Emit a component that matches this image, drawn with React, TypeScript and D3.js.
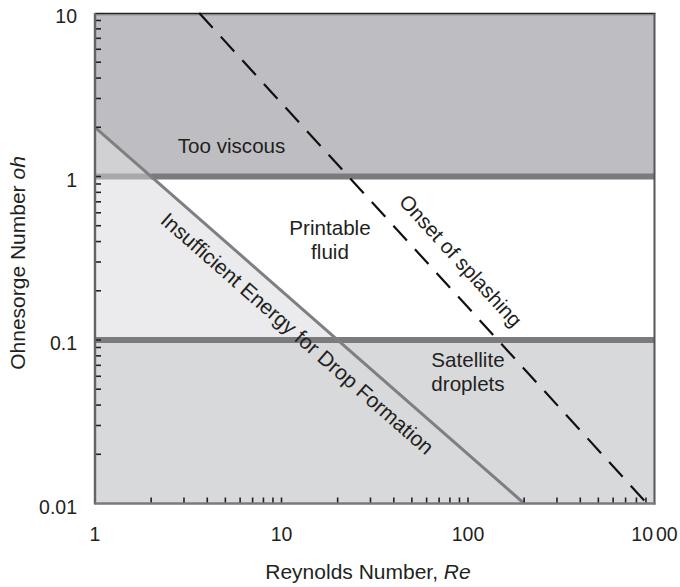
import * as d3 from 'd3';

// axis domains and tick labels
const reDomain = [1, 1000];
const ohDomain = [0.01, 10];
const reTicks = [1, 10, 100, 1000];
const ohTicks = [0.01, 0.1, 1, 10];

// regime boundaries (Ohnesorge number)
const bandLevels = [1, 0.1];

// boundary lines, as end points in (Re, Oh)
const energyLine = [{ re: 1, oh: 2 }, { re: 200, oh: 0.01 }];
const splashLine = [{ re: 3.62, oh: 10 }, { re: 912, oh: 0.01 }];

// region labels, anchored in data units
const regionLabels = [
  { lines: ['Too viscous'], re: 5.4, oh: 1.4 },
  { lines: ['Printable', 'fluid'], re: 18.2, oh: 0.438 },
  { lines: ['Satellite', 'droplets'], re: 100, oh: 0.0684 },
];

const FONT = "'Liberation Sans', Arial, Helvetica, sans-serif";
const INK = '#231f20';

const W = 680;
const H = 587;
const margin = { top: 13, right: 25.5, bottom: 83.5, left: 95 };

// Re where a line (straight in log-log) crosses a given Oh
function reAtOh(line, oh) {
  const [a, b] = line;
  const t = (Math.log10(oh) - Math.log10(a.oh)) / (Math.log10(b.oh) - Math.log10(a.oh));
  return 10 ** (Math.log10(a.re) + t * (Math.log10(b.re) - Math.log10(a.re)));
}

export default function App() {
  const x = d3.scaleLog().domain(reDomain).range([margin.left, W - margin.right]);
  const y = d3.scaleLog().domain(ohDomain).range([H - margin.bottom, margin.top]);

  const [x0, x1] = x.range();
  const [yb, yt] = y.range();

  const line = d3.line().x(d => x(d.re)).y(d => y(d.oh));
  const poly = pts => line(pts) + 'Z';

  const hi = bandLevels[0];
  const lo = bandLevels[1];
  const reHi = reAtOh(energyLine, hi);
  const reLo = reAtOh(energyLine, lo);

  const angleOf = ln =>
    (Math.atan2(y(ln[1].oh) - y(ln[0].oh), x(ln[1].re) - x(ln[0].re)) * 180) / Math.PI;
  const energyAngle = angleOf(energyLine);
  const splashAngle = angleOf(splashLine);

  const ohAt = (ln, re) => {
    const [a, b] = ln;
    const t = (Math.log10(re) - Math.log10(a.re)) / (Math.log10(b.re) - Math.log10(a.re));
    return 10 ** (Math.log10(a.oh) + t * (Math.log10(b.oh) - Math.log10(a.oh)));
  };
  const energyAnchor = { re: 14.5, oh: ohAt(energyLine, 14.5) };
  const splashAnchor = { re: 72, oh: ohAt(splashLine, 72) };

  const xMinor = x.ticks().filter(v => v > reDomain[0] && v < reDomain[1]);
  const yMinor = y.ticks().filter(v => v > ohDomain[0] && v < ohDomain[1]);

  return (
    <svg
      width={W}
      height={H}
      style={{ position: 'absolute', left: 0, top: 0, background: '#fff' }}
      fontFamily={FONT}
    >
      {/* regions */}
      <rect x={x0} y={yt} width={x1 - x0} height={y(hi) - yt} fill="#bebec2" />
      <rect x={x0} y={y(lo)} width={x1 - x0} height={yb - y(lo)} fill="#d8d9db" />
      <path
        d={poly([{ re: 1, oh: energyLine[0].oh }, { re: reHi, oh: hi }, { re: 1, oh: hi }])}
        fill="#d1d1d4"
      />
      <path
        d={poly([{ re: 1, oh: hi }, { re: reHi, oh: hi }, { re: reLo, oh: lo }, { re: 1, oh: lo }])}
        fill="#ebebed"
      />
      <rect x={x0} y={yt + 1} width={x1 - x0} height={2} fill="#a9a9ad" />

      {/* boundary bands */}
      <line x1={x0} x2={x(reHi)} y1={y(hi)} y2={y(hi)} stroke="#a8a8ab" strokeWidth={6} />
      <line x1={x(reHi)} x2={x1} y1={y(hi)} y2={y(hi)} stroke="#7b7b7f" strokeWidth={6} />
      <line x1={x0} x2={x1} y1={y(lo)} y2={y(lo)} stroke="#7b7b7f" strokeWidth={6} />

      {/* insufficient energy line */}
      <path d={line(energyLine)} fill="none" stroke="#7f7f83" strokeWidth={3} />

      {/* ticks */}
      {xMinor.map(v => (
        <line key={'xt' + v} x1={x(v)} x2={x(v)} y1={yb} y2={yb - 6} stroke={INK} strokeWidth={1.6} />
      ))}
      {yMinor.map(v => (
        <line key={'yt' + v} x1={x0} x2={x0 + 6} y1={y(v)} y2={y(v)} stroke={INK} strokeWidth={1.6} />
      ))}

      {/* frame */}
      <line x1={x0} x2={x1 + 1} y1={yt + 0.5} y2={yt + 0.5} stroke="#222" strokeWidth={1.3} />
      <line x1={x0} x2={x0} y1={yt} y2={yb + 1} stroke="#646468" strokeWidth={2.4} />
      <line x1={x1} x2={x1} y1={yt} y2={yb + 1} stroke="#55555a" strokeWidth={2} />
      <line x1={x0} x2={x1 + 1} y1={yb} y2={yb} stroke="#7a7a7e" strokeWidth={2.5} />

      {/* onset of splashing */}
      <path
        d={line(splashLine)}
        fill="none"
        stroke="#111"
        strokeWidth={2.2}
        strokeDasharray="20 12"
      />

      {/* region labels */}
      {regionLabels.map(l => (
        <text
          key={l.lines[0]}
          x={x(l.re)}
          y={y(l.oh)}
          textAnchor="middle"
          fontSize={20.6}
          fill={INK}
        >
          {l.lines.map((s, i) => (
            <tspan key={s} x={x(l.re)} dy={i === 0 ? 0 : 24}>
              {s}
            </tspan>
          ))}
        </text>
      ))}
      <text
        transform={`translate(${x(energyAnchor.re)},${y(energyAnchor.oh)}) rotate(${energyAngle})`}
        y={29}
        textAnchor="middle"
        fontSize={21}
        fill={INK}
      >
        Insufficient Energy for Drop Formation
      </text>
      <text
        transform={`translate(${x(splashAnchor.re)},${y(splashAnchor.oh)}) rotate(${splashAngle})`}
        y={-19}
        textAnchor="middle"
        fontSize={20.6}
        fill={INK}
      >
        Onset of splashing
      </text>

      {/* tick labels */}
      {reTicks.map(v => (
        <text key={'xl' + v} x={x(v)} y={541} textAnchor="middle" fontSize={19.5} fill={INK}>
          {v === 1000 ? (
            <>
              <tspan>10</tspan>
              <tspan dx={3}>00</tspan>
            </>
          ) : (
            v
          )}
        </text>
      ))}
      {ohTicks.map(v => (
        <text key={'yl' + v} x={77} y={y(v) + 10} textAnchor="end" fontSize={19.5} fill={INK}>
          {v}
        </text>
      ))}

      {/* axis titles */}
      <text x={368} y={579} textAnchor="middle" fontSize={21} fill={INK}>
        Reynolds Number, <tspan fontStyle="italic">Re</tspan>
      </text>
      <text transform="translate(25,263) rotate(-90)" textAnchor="middle" fontSize={21} fill={INK}>
        Ohnesorge Number <tspan fontStyle="italic">oh</tspan>
      </text>
    </svg>
  );
}
